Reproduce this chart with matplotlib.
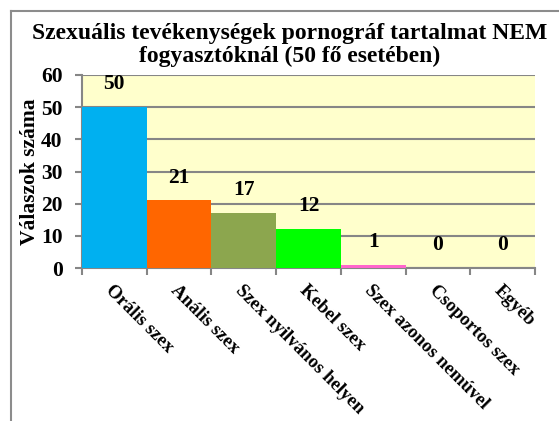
import matplotlib
matplotlib.use("Agg")
import matplotlib.pyplot as plt
from matplotlib.lines import Line2D
import matplotlib.transforms as mtransforms
import numpy as np

categories = ["Orális szex", "Anális szex", "Szex nyilvános helyen", "Kebel szex",
              "Szex azonos nemúvel", "Csoportos szex", "Egyéb"]
values = [50, 21, 17, 12, 1, 0, 0]
colors = ["#00B0F0", "#FF6600", "#8CA64E", "#00FF00", "#FF66CC", "#7F7F7F", "#7F7F7F"]
title = "Szexuális tevékenységek pornográf tartalmat NEM\nfogyasztóknál (50 fő esetében)"
ylabel = "Válaszok száma"
yticks = [0, 10, 20, 30, 40, 50, 60]

plt.rcParams['font.family'] = ['Liberation Serif', 'DejaVu Serif']
plt.rcParams['font.weight'] = 'bold'

W, H = 559, 421
fig = plt.figure(figsize=(W / 100, H / 100), dpi=100)
fig.patch.set_facecolor("white")

# outer frame (top & left visible)
fig.add_artist(Line2D([11 / W, 11 / W], [0, 1 - 11 / H], color="#8C8C8C", lw=1.5, transform=fig.transFigure))
fig.add_artist(Line2D([11 / W, 1.0], [1 - 11 / H, 1 - 11 / H], color="#8C8C8C", lw=1.5, transform=fig.transFigure))

left, right, top, bottom = 82, 535, 75, 268
ax = fig.add_axes([left / W, 1 - bottom / H, (right - left) / W, (bottom - top) / H])
ax.set_facecolor("#FFFFCC")

x = np.arange(len(categories))
ax.bar(x, values, width=1.0, color=colors, zorder=3)
ax.set_xlim(-0.5, len(categories) - 0.5)
ax.set_ylim(0, 60)
ax.set_yticks(yticks)
ax.set_yticklabels([str(v) for v in yticks], fontsize=15.5, fontweight='bold')
ax.yaxis.grid(True, color="#868686", lw=1.5, zorder=1)
ax.set_axisbelow(True)

for i, v in enumerate(values):
    ax.annotate(str(v), (x[i], v), xytext=(0, 16.5), textcoords="offset points",
                ha='center', va='center', fontsize=15.5, fontweight='bold', zorder=4)

ax.set_xticks(x)
labels = ax.set_xticklabels(categories, rotation=-45, ha='left', va='top', rotation_mode='anchor',
                            fontsize=13.5, fontweight='bold')
shift = mtransforms.ScaledTranslation(3 / 100, 0, fig.dpi_scale_trans)
for lab in labels:
    lab.set_transform(lab.get_transform() + shift)
ax.tick_params(axis='x', length=0, pad=10)
ax.set_xticks(np.arange(-0.5, len(categories), 1.0), minor=True)
ax.tick_params(axis='x', which='minor', length=5, color="#868686", width=1.5)
ax.tick_params(axis='y', length=5, color="#868686", width=1.5, pad=9)

for s in ["top", "right"]:
    ax.spines[s].set_visible(False)
for s in ["left", "bottom"]:
    ax.spines[s].set_color("#868686")
    ax.spines[s].set_linewidth(1.5)

ax.set_ylabel(ylabel, fontsize=15.5, fontweight='bold', labelpad=1)

fig.text(290 / W, 1 - 45 / H, title, ha='center', va='center', fontsize=17,
         fontweight='bold', linespacing=1.15)

fig.savefig("out.png", dpi=100)
